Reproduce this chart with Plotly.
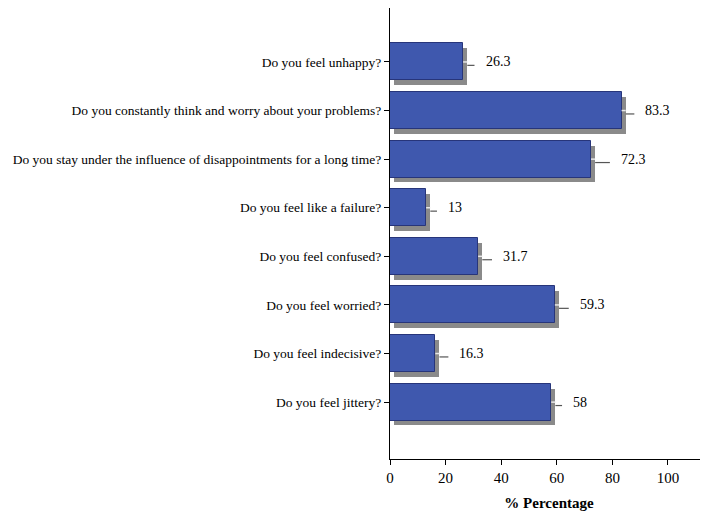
import plotly.graph_objects as go

questions = [
    "Do you feel unhappy?",
    "Do you constantly think and worry about your problems?",
    "Do you stay under the influence of disappointments for a long time?",
    "Do you feel like a failure?",
    "Do you feel confused?",
    "Do you feel worried?",
    "Do you feel indecisive?",
    "Do you feel jittery?",
]
percent = [26.3, 83.3, 72.3, 13, 31.7, 59.3, 16.3, 58]
leader = [4.1, 4.6, 6.8, 3.9, 5.0, 5.0, 4.7, 3.9]
xticks = [0, 20, 40, 60, 80, 100]

pos = list(range(len(questions)))
font = "Liberation Serif"
fig = go.Figure()

# shadow behind each bar
fig.add_trace(go.Bar(
    x=percent, y=[p + 0.1 for p in pos], base=1.5, orientation='h', width=0.76,
    marker=dict(color='#8a8a8a', line=dict(width=0)),
    hoverinfo='skip', showlegend=False))

fig.add_trace(go.Bar(
    x=percent, y=pos, orientation='h', width=0.76,
    marker=dict(color='#3f58ae', line=dict(color='#27357a', width=1)),
    showlegend=False))

# leader lines: light across shadow, dark beyond it
lx, ly, dx, dy = [], [], [], []
for p, v, l in zip(pos, percent, leader):
    lx += [v, v + 1.5, None]
    ly += [p, p, None]
    dx += [v + 1.5, v + l, None]
    dy += [p + 0.07, p + 0.07, None]
fig.add_trace(go.Scatter(x=lx, y=ly, mode='lines', line=dict(color='#e8e8e8', width=1.5),
                         hoverinfo='skip', showlegend=False))
fig.add_trace(go.Scatter(x=dx, y=dy, mode='lines', line=dict(color='#555555', width=1.2),
                         hoverinfo='skip', showlegend=False))

for p, v, l in zip(pos, percent, leader):
    fig.add_annotation(x=v + l, y=p, text=f"{v:g}", showarrow=False, xanchor='left',
                       xshift=9, font=dict(family=font, size=14, color='black'))

# page body has an 8px margin, so the figure is a bit smaller than the window
fig.update_layout(
    width=700, height=504,
    margin=dict(l=382, r=0, t=0, b=53),
    plot_bgcolor='white', paper_bgcolor='white',
    bargap=0, barmode='overlay',
    font=dict(family=font, size=14, color='black'),
    xaxis=dict(range=[0, 114.4], tickvals=xticks, showline=True, linecolor='black',
               linewidth=1, ticks='outside', ticklen=5, tickcolor='black',
               showgrid=False, zeroline=False, tickfont=dict(size=15),
               title=dict(text='<b>% Percentage</b>', font=dict(size=15), standoff=12)),
    yaxis=dict(range=[8.17, -1.11], tickvals=pos, ticktext=questions, showline=True,
               linecolor='black', linewidth=1, ticks='outside', ticklen=5,
               tickcolor='black', showgrid=False, zeroline=False, automargin=False,
               tickfont=dict(size=13.5)),
)

fig.write_html("out.html")
